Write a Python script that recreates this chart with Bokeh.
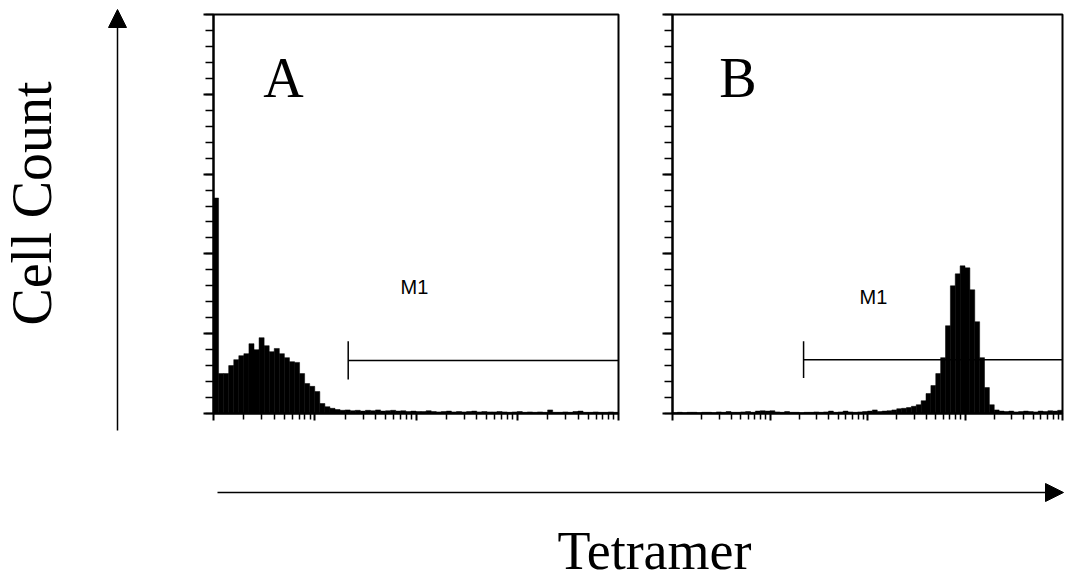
import numpy as np
from bokeh.plotting import figure
from bokeh.models import Range1d, FixedTicker, Label, Arrow, NormalHead
from bokeh.layouts import column, row
from bokeh.embed import file_html
from bokeh.resources import INLINE

# ---------------- data ----------------
x_min, x_max = 1, 10000          # log fluorescence scale (4 decades)
y_min, y_max = 0, 100            # cell count scale
n_bins = 80                      # 0.05-decade channels

counts_a = [54, 10, 10, 12, 13.5, 14.5, 15, 17.5, 16, 19,
            17, 15.5, 16.3, 15, 14, 13, 12.8, 10, 7.5, 6.8,
            5.5, 2.5, 1.7, 1.3, 1.0, 0.8, 0.9, 0.7, 0.8, 0.6,
            0.8, 0.7, 0.9, 0.6, 0.7, 0.8, 0.6, 0.7, 0.5, 0.6,
            0.5, 0.5, 0.7, 0.5, 0.4, 0.5, 0.6, 0.4, 0.5, 0.4,
            0.5, 0.6, 0.4, 0.5, 0.4, 0.4, 0.5, 0.4, 0.3, 0.4,
            0.5, 0.3, 0.4, 0.3, 0.4, 0.3, 0.9, 0.3, 0.3, 0.4,
            0.3, 0.5, 0.6, 0.3, 0.3, 0.4, 0.3, 0.3, 0.4, 0.3]

counts_b = [0.2, 0.3, 0.2, 0.3, 0.3, 0.2, 0.3, 0.3, 0.2, 0.4,
            0.3, 0.5, 0.3, 0.3, 0.4, 0.5, 0.3, 0.6, 0.7, 0.6,
            0.7, 0.4, 0.3, 0.5, 0.3, 0.3, 0.2, 0.3, 0.3, 0.4,
            0.3, 0.4, 0.6, 0.3, 0.4, 0.6, 0.4, 0.3, 0.4, 0.5,
            0.6, 0.9, 0.5, 0.6, 0.7, 0.9, 1.2, 1.3, 1.5, 1.8,
            2.2, 3.2, 5.0, 7.0, 10, 14, 22, 32, 35, 37,
            36.5, 31, 23, 14, 6.5, 2.2, 0.9, 0.6, 0.5, 0.6,
            0.4, 0.5, 0.6, 0.5, 0.4, 0.6, 0.5, 0.7, 0.6, 0.8]

panel_labels = ["A", "B"]
marker_name = "M1"
m1_start = [21.4, 22.1]          # gate start (channel value)
m1_level = [13.3, 13.5]          # height of gate bar
m1_cap = [4.8, 4.6]              # half-height of gate end cap
m1_label_pos = [(96.6, 31.6), (115.0, 29.1)]
panel_label_pos = [(4.9, 84.0), (4.7, 84.0)]

y_axis_title = "Cell Count"
x_axis_title = "Tetramer"

major_x = [1, 10, 100, 1000, 10000]
minor_x = [k * 10 ** d for d in range(4) for k in range(2, 10)]
major_y = list(range(0, 101, 20))
minor_y = list(range(0, 101, 4))

edges = np.logspace(np.log10(x_min), np.log10(x_max), n_bins + 1)

SERIF = "Liberation Serif"
SANS = "Liberation Sans"

PAGE_W, PAGE_H = 1067, 583
LEFT_W = 183
TOP_H = 440
FRAME_TOP, FRAME_BOTTOM = 14, 413


def panel(idx, counts, width, b_left, b_right):
    p = figure(width=width, height=TOP_H, x_axis_type="log",
               x_range=Range1d(x_min, x_max), y_range=Range1d(y_min, y_max),
               output_backend="svg", toolbar_location=None,
               min_border_left=b_left, min_border_right=b_right,
               min_border_top=FRAME_TOP, min_border_bottom=TOP_H - FRAME_BOTTOM)
    p.grid.visible = False
    p.outline_line_color = "black"
    p.outline_line_width = 2
    p.xaxis.ticker = FixedTicker(ticks=major_x, minor_ticks=minor_x)
    p.yaxis.ticker = FixedTicker(ticks=major_y, minor_ticks=minor_y)
    p.axis.major_label_text_font_size = "1px"
    p.axis.major_label_text_alpha = 0
    p.axis.major_label_standoff = 0
    p.axis.axis_line_color = "black"
    p.axis.axis_line_width = 2
    p.axis.major_tick_line_color = "black"
    p.axis.minor_tick_line_color = "black"
    p.axis.major_tick_line_width = 2
    p.axis.minor_tick_line_width = 1.5
    p.axis.major_tick_in = 0
    p.axis.minor_tick_in = 0
    p.xaxis.major_tick_out = 7
    p.xaxis.minor_tick_out = 6
    p.yaxis.major_tick_out = 10
    p.yaxis.minor_tick_out = 8

    p.quad(left=edges[:-1], right=edges[1:], bottom=0, top=counts,
           fill_color="black", line_color="black", line_width=0.5)

    # M1 gate
    p.segment(x0=[m1_start[idx]], y0=[m1_level[idx]], x1=[x_max], y1=[m1_level[idx]],
              line_color="black", line_width=1.5)
    p.segment(x0=[m1_start[idx]], y0=[m1_level[idx] - m1_cap[idx]],
              x1=[m1_start[idx]], y1=[m1_level[idx] + m1_cap[idx]],
              line_color="black", line_width=1.5)
    mx, my = m1_label_pos[idx]
    p.add_layout(Label(x=mx, y=my, text=marker_name, text_font=SANS,
                       text_font_size="20px", text_align="center",
                       text_baseline="alphabetic", text_color="black"))
    lx, ly = panel_label_pos[idx]
    p.add_layout(Label(x=lx, y=ly, text=panel_labels[idx], text_font=SERIF,
                       text_font_size="56px", text_align="center",
                       text_baseline="alphabetic", text_color="black"))
    return p


def blank(width, height, x_range, y_range):
    p = figure(width=width, height=height, x_range=x_range,
               y_range=y_range, min_border=0,
               x_axis_location=None, y_axis_location=None,
               output_backend="svg", toolbar_location=None)
    p.outline_line_color = None
    for g in p.grid:
        g.visible = False
    return p


# left strip spanning the full page height; coordinates in page pixels
fig_left = blank(LEFT_W, PAGE_H, Range1d(0, LEFT_W), Range1d(PAGE_H, 0))
fig_left.add_layout(Arrow(end=NormalHead(size=18, fill_color="black", line_color="black"),
                          x_start=117, y_start=430, x_end=117, y_end=9,
                          line_color="black", line_width=1.5))
fig_left.add_layout(Label(x=31.5, y=203, text=y_axis_title, angle=np.pi / 2,
                          text_align="center", text_baseline="alphabetic",
                          text_font=SERIF, text_font_size="56px", text_color="black"))

fig_a = panel(0, counts_a, 457, 30, 22)
fig_b = panel(1, counts_b, 427, 32, 5)

# bottom strip under the panels; coordinates in page pixels
fig_bottom = blank(PAGE_W - LEFT_W, PAGE_H - TOP_H,
                   Range1d(LEFT_W, PAGE_W), Range1d(PAGE_H, TOP_H))
fig_bottom.add_layout(Arrow(end=NormalHead(size=18, fill_color="black", line_color="black"),
                            x_start=217, y_start=492, x_end=1063, y_end=492,
                            line_color="black", line_width=1.5))
fig_bottom.add_layout(Label(x=654, y=550, text=x_axis_title, text_align="center",
                            text_baseline="alphabetic", text_font=SERIF,
                            text_font_size="54px", text_color="black"))

layout = row(fig_left, column(row(fig_a, fig_b), fig_bottom))

open("out.html", "w").write(file_html(layout, INLINE, "Tetramer staining"))
